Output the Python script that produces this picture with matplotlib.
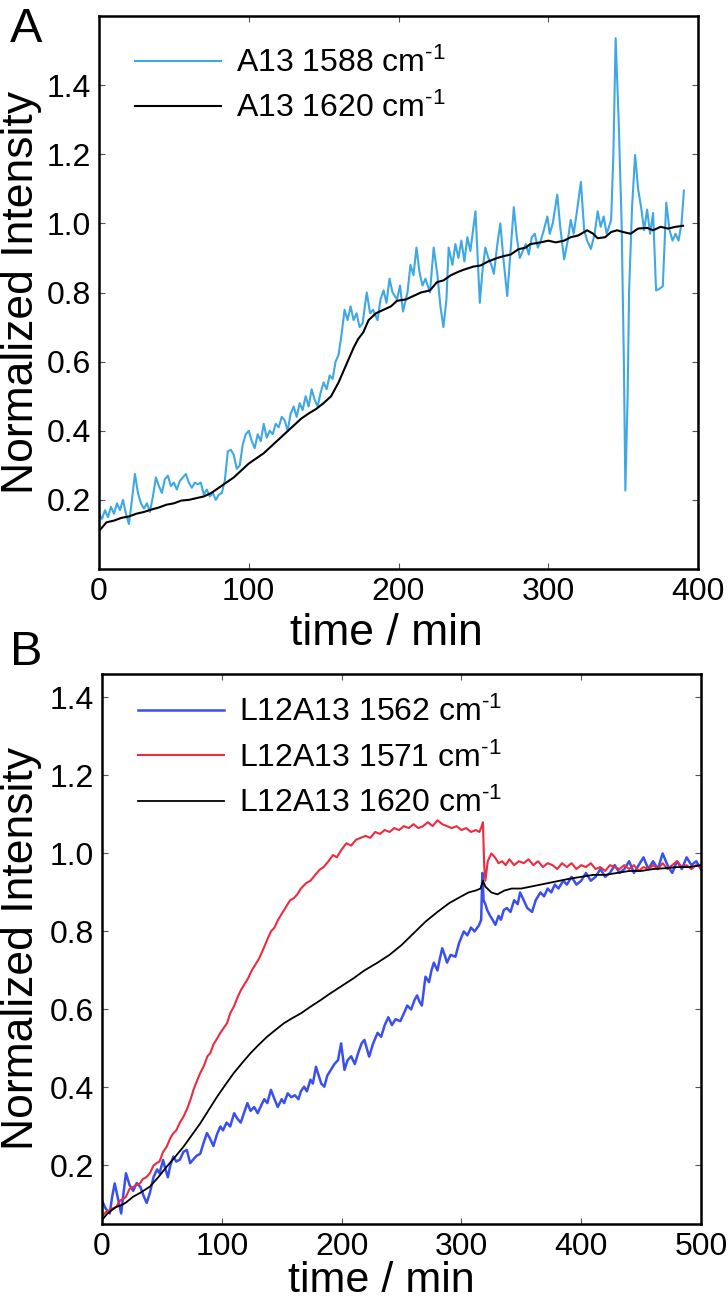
import numpy as np
import matplotlib
matplotlib.use('Agg')
import matplotlib.pyplot as plt

plt.rcParams['font.family'] = ['Liberation Sans', 'DejaVu Sans']
plt.rcParams['mathtext.fontset'] = 'custom'
plt.rcParams['mathtext.rm'] = 'Liberation Sans'
plt.rcParams['mathtext.default'] = 'regular'

# ---------------- Panel A data (time in min, normalized intensity) ----------------
t_a13_1588 = [0, 2, 4, 6, 8, 10, 12, 14, 16, 18,
              20, 22, 24, 26, 28, 30, 32, 34, 36, 38,
              40, 42, 44, 46, 48, 50, 52, 54, 56, 58,
              60, 62, 64, 66, 68, 70, 72, 74, 76, 78,
              80, 82, 84, 86, 88, 90, 92, 94, 96, 98,
              100, 102, 104, 106, 108, 110, 112, 114, 116, 118,
              120, 122, 124, 126, 128, 130, 132, 134, 136, 138,
              140, 142, 144, 146, 148, 150, 152, 154, 156, 158,
              160, 162, 164, 166, 168, 170, 172, 174, 176, 178.8,
              181, 183, 186, 188, 190, 192, 194, 196, 199, 201,
              203, 206, 208, 210, 212, 214, 216, 218, 221, 223.5,
              226, 228, 230, 232, 233.5, 236, 238, 240, 242, 244,
              246, 248, 251.4, 254.3, 256, 258, 260, 262, 263.7, 266,
              268, 270, 272.6, 275, 277, 279, 281, 283, 285, 287,
              289, 291, 293, 295, 297, 299.4, 301, 303, 306, 308,
              310.6, 313, 315, 317, 319, 321.8, 324, 326, 328.5, 331,
              333, 335, 337, 339, 342, 343.5, 345, 347, 349, 350.5,
              351.5, 353, 354, 356, 358, 360, 362, 364, 366, 368,
              370, 372, 374, 376.5, 378.8, 381, 383, 385, 387, 389,
              390.6]
v_a13_1588 = [0.16, 0.145, 0.17, 0.15, 0.18, 0.16, 0.19, 0.17, 0.2, 0.16,
              0.13, 0.2, 0.275, 0.22, 0.19, 0.175, 0.19, 0.165, 0.21, 0.265,
              0.24, 0.22, 0.26, 0.27, 0.24, 0.25, 0.23, 0.255, 0.265, 0.275,
              0.25, 0.235, 0.25, 0.245, 0.25, 0.215, 0.23, 0.21, 0.22, 0.2,
              0.215, 0.22, 0.255, 0.34, 0.345, 0.33, 0.29, 0.3, 0.36, 0.39,
              0.4, 0.37, 0.35, 0.39, 0.37, 0.42, 0.38, 0.40, 0.39, 0.42,
              0.41, 0.44, 0.43, 0.40, 0.45, 0.47, 0.44, 0.48, 0.46, 0.50,
              0.47, 0.52, 0.49, 0.47, 0.51, 0.54, 0.52, 0.56, 0.55, 0.60,
              0.62, 0.68, 0.75, 0.72, 0.76, 0.72, 0.74, 0.70, 0.71, 0.80,
              0.74, 0.75, 0.72, 0.78, 0.806, 0.77, 0.84, 0.80, 0.78, 0.82,
              0.745, 0.80, 0.88, 0.85, 0.93, 0.86, 0.82, 0.84, 0.80, 0.93,
              0.85, 0.76, 0.70, 0.78, 0.93, 0.88, 0.94, 0.90, 0.95, 0.89,
              0.96, 0.92, 1.035, 0.77, 0.86, 0.93, 0.90, 0.88, 0.854, 0.94,
              1.00, 0.90, 0.79, 0.93, 1.047, 0.96, 0.90, 0.92, 0.94, 0.91,
              0.96, 0.97, 0.93, 0.95, 0.98, 1.02, 0.97, 1.0, 1.083, 0.99,
              0.896, 0.95, 1.01, 0.97, 1.03, 1.12, 0.98, 0.95, 0.926, 0.97,
              1.035, 0.99, 1.02, 0.97, 1.01, 1.2, 1.536, 1.3, 1.0, 0.6,
              0.227, 0.5, 0.806, 1.05, 1.198, 1.10, 1.047, 0.98, 1.04, 0.97,
              1.03, 0.806, 0.81, 0.818, 1.06, 0.98, 0.95, 0.97, 0.95, 1.0,
              1.095]

t_a13_1620 = [0, 5, 10, 15, 20, 25, 30, 35, 40, 45,
              50, 55, 60, 65, 70, 75, 80, 85, 90, 95,
              100, 105, 110, 115, 120, 125, 130, 135, 140, 145,
              150, 155, 160, 165, 170, 173, 176.5, 180, 185, 190,
              195, 199, 205, 210, 215, 221, 225.7, 230, 235, 240,
              243.6, 250, 254.7, 260, 266, 270, 275, 280, 285, 288,
              295, 300, 305, 310.6, 315, 320, 326, 330, 333, 338,
              342, 346, 350, 355, 360, 366, 370, 375, 380, 385,
              390]
v_a13_1620 = [0.11, 0.135, 0.14, 0.148, 0.152, 0.16, 0.165, 0.172, 0.178, 0.186,
              0.19, 0.198, 0.2, 0.205, 0.21, 0.22, 0.235, 0.25, 0.265, 0.285,
              0.305, 0.32, 0.335, 0.355, 0.375, 0.395, 0.415, 0.435, 0.45, 0.463,
              0.48, 0.5, 0.54, 0.59, 0.64, 0.665, 0.685, 0.72, 0.74, 0.75,
              0.76, 0.776, 0.78, 0.79, 0.80, 0.806, 0.83, 0.835, 0.85, 0.86,
              0.866, 0.875, 0.878, 0.89, 0.90, 0.905, 0.91, 0.925, 0.93, 0.94,
              0.945, 0.95, 0.945, 0.95, 0.96, 0.965, 0.98, 0.97, 0.957, 0.96,
              0.975, 0.98, 0.975, 0.97, 0.985, 0.987, 0.98, 0.99, 0.985, 0.99,
              0.993]

# ---------------- Panel B data ----------------
t_l12_1562 = [0, 3, 6.4, 8.5, 10.6, 13, 16, 18, 20, 23,
              26, 29, 32, 35, 37.3, 40, 43, 46, 48, 51,
              53, 55, 57, 59.6, 62, 65, 68, 70.8, 73.6, 76,
              79, 82, 85, 87.6, 90, 93, 96, 98.8, 101, 104,
              107, 110.3, 113, 115.8, 118, 121.4, 124, 127, 130, 133,
              135.5, 138, 141, 144, 146.7, 150, 152, 155, 158, 161,
              164, 166, 168.7, 171, 174, 176, 178.6, 181, 183, 185.6,
              188, 191, 194, 197, 199.6, 202.4, 205, 208, 211, 214,
              216.7, 219, 221, 223, 226, 230, 233, 236, 239, 242,
              245, 249, 252, 254.8, 258, 261, 263, 265, 267, 270,
              273, 275, 277, 280, 282, 284, 286, 288, 291, 295,
              298, 302, 305, 308, 311, 314.7, 316.5, 317.5, 318.5, 320,
              321.5, 324, 326, 328.4, 331, 333, 335.4, 338, 341, 344,
              347, 349, 352, 355, 359, 362, 366, 369, 372, 375,
              378, 381, 385, 388, 392, 396, 400, 404, 408, 412,
              416, 420, 424, 428, 432, 436, 440, 444, 448, 452,
              456, 460, 464, 468, 472, 476, 480, 484, 488, 492,
              496, 500]
v_l12_1562 = [0.11, 0.09, 0.077, 0.12, 0.154, 0.12, 0.077, 0.13, 0.18, 0.15,
              0.135, 0.155, 0.145, 0.12, 0.104, 0.13, 0.17, 0.19, 0.18, 0.214,
              0.19, 0.17, 0.2, 0.223, 0.21, 0.215, 0.235, 0.24, 0.206, 0.215,
              0.225, 0.23, 0.26, 0.283, 0.27, 0.25, 0.28, 0.30, 0.29, 0.31,
              0.30, 0.334, 0.32, 0.31, 0.33, 0.36, 0.34, 0.35, 0.334, 0.355,
              0.37, 0.36, 0.394, 0.37, 0.35, 0.37, 0.36, 0.385, 0.375, 0.38,
              0.37, 0.39, 0.402, 0.39, 0.42, 0.41, 0.453, 0.43, 0.41, 0.402,
              0.43, 0.445, 0.46, 0.47, 0.513, 0.445, 0.47, 0.48, 0.46, 0.49,
              0.513, 0.522, 0.50, 0.479, 0.51, 0.54, 0.53, 0.56, 0.58, 0.56,
              0.575, 0.57, 0.59, 0.61, 0.60, 0.625, 0.636, 0.62, 0.61, 0.684,
              0.67, 0.70, 0.72, 0.70, 0.73, 0.757, 0.74, 0.72, 0.74, 0.735,
              0.77, 0.80, 0.79, 0.81, 0.80, 0.816, 0.83, 0.95, 0.88, 0.87,
              0.855, 0.84, 0.83, 0.817, 0.84, 0.83, 0.855, 0.86, 0.85, 0.88,
              0.87, 0.90, 0.88, 0.86, 0.85, 0.88, 0.90, 0.89, 0.91, 0.90,
              0.92, 0.91, 0.93, 0.92, 0.94, 0.92, 0.93, 0.95, 0.93, 0.94,
              0.96, 0.94, 0.95, 0.97, 0.95, 0.96, 0.98, 0.95, 0.97, 0.99,
              0.96, 0.98, 0.96, 1.0, 0.97, 0.95, 0.98, 0.96, 0.99, 0.97,
              0.98, 0.96]

t_l12_1571 = [0, 3, 6, 9, 12, 15, 18, 20, 23, 26,
              29, 31.7, 34, 37, 40, 43, 45.6, 48, 51, 54,
              57, 59.6, 62, 65, 68, 71, 74, 76.4, 79, 82,
              85, 88, 90.4, 93, 96, 98.8, 101, 104.4, 107, 110,
              113, 116, 119, 122, 125, 128, 131, 134, 137.8, 141,
              144, 147, 150, 153, 157, 160, 163, 166, 170.5, 174,
              178, 181.6, 185, 189, 192.8, 196, 200, 204, 208, 212,
              216, 220, 224, 228, 232, 236, 240, 244, 248, 252,
              256, 260, 264, 268, 272, 276, 280, 284, 288, 292,
              296, 300, 304, 308, 312, 315, 317, 318, 319, 320,
              322, 325, 328, 331, 334, 337, 340, 344, 348, 352,
              356, 360, 364, 368, 372, 376, 380, 384, 388, 392,
              396, 400, 404, 408, 412, 416, 420, 424, 428, 432,
              436, 440, 444, 448, 452, 456, 460, 464, 468, 472,
              476, 480, 484, 488, 492, 496, 500]
v_l12_1571 = [0.07, 0.08, 0.085, 0.09, 0.094, 0.11, 0.115, 0.12, 0.14, 0.145,
              0.15, 0.154, 0.165, 0.17, 0.18, 0.2, 0.206, 0.21, 0.235, 0.248,
              0.27, 0.283, 0.29, 0.31, 0.325, 0.345, 0.37, 0.394, 0.415, 0.437,
              0.455, 0.48, 0.488, 0.51, 0.525, 0.54, 0.55, 0.565, 0.59, 0.607,
              0.63, 0.65, 0.665, 0.68, 0.70, 0.715, 0.73, 0.75, 0.778, 0.80,
              0.81, 0.83, 0.845, 0.86, 0.88, 0.885, 0.895, 0.91, 0.924, 0.93,
              0.945, 0.958, 0.965, 0.98, 0.996, 0.99, 1.01, 1.026, 1.02, 1.035,
              1.04, 1.045, 1.04, 1.055, 1.05, 1.06, 1.055, 1.065, 1.06, 1.07,
              1.065, 1.075, 1.065, 1.07, 1.08, 1.07, 1.085, 1.075, 1.07, 1.065,
              1.07, 1.06, 1.065, 1.055, 1.06, 1.055, 1.07, 1.08, 0.97, 0.93,
              0.98, 1.0, 0.99, 0.975, 0.98, 0.97, 0.985, 0.97, 0.98, 0.975,
              0.985, 0.97, 0.98, 0.965, 0.975, 0.97, 0.96, 0.975, 0.965, 0.975,
              0.96, 0.97, 0.965, 0.975, 0.96, 0.965, 0.955, 0.97, 0.965, 0.96,
              0.97, 0.96, 0.97, 0.955, 0.965, 0.96, 0.97, 0.96, 0.975, 0.96,
              0.97, 0.98, 0.965, 0.97, 0.96, 0.97, 0.965]

t_l12_1620 = [0, 4, 8, 12, 16, 20, 26, 32, 40, 47,
              54, 61, 68, 75, 82, 89, 96, 103, 110, 117,
              124, 131, 137.8, 145, 152, 159, 166, 174, 182.5, 190,
              200, 210, 219, 230, 240, 250, 260, 270, 280, 290,
              300, 306, 312, 316, 318, 320, 325,
              330, 336, 342, 350, 358, 366, 374, 382, 390, 400,
              410, 420, 430, 440, 450, 460, 470, 480, 490, 500]
v_l12_1620 = [0.06, 0.075, 0.085, 0.094, 0.098, 0.105, 0.12, 0.13, 0.146, 0.17,
              0.197, 0.222, 0.248, 0.278, 0.308, 0.342, 0.376, 0.407, 0.437, 0.463,
              0.488, 0.51, 0.53, 0.548, 0.565, 0.578, 0.59, 0.607, 0.624, 0.64,
              0.66, 0.68, 0.70, 0.72, 0.74, 0.765, 0.795, 0.825, 0.85, 0.873,
              0.89, 0.90, 0.905, 0.91, 0.93, 0.915, 0.90,
              0.895, 0.905, 0.91, 0.91, 0.915, 0.92, 0.925, 0.93, 0.935, 0.94,
              0.945, 0.945, 0.95, 0.955, 0.955, 0.96, 0.962, 0.965, 0.965, 0.97]

yticks = [0.2, 0.4, 0.6, 0.8, 1.0, 1.2, 1.4]


def style_axes(ax):
    for sp in ax.spines.values():
        sp.set_linewidth(1.8)
        sp.set_color('black')
    ax.tick_params(direction='in', length=4, width=0.8, color='#555555',
                   top=True, right=True, labelsize=23, pad=6)
    ax.set_yticks(yticks)
    ax.set_yticklabels([f'{v:.1f}' for v in yticks])


fig = plt.figure(figsize=(7.28, 13.03), dpi=100)

# ------------------ Panel A ------------------
ax1 = fig.add_axes([99 / 728, 1 - 569 / 1303, 599 / 728, 553 / 1303])
ax1.plot(t_a13_1588, v_a13_1588, color='#3ea8e5', lw=1.5, label=r'A13 1588 cm$^{\text{-}1}$')
ax1.plot(t_a13_1620, v_a13_1620, color='black', lw=1.5, label=r'A13 1620 cm$^{\text{-}1}$')
ax1.set_xlim(0, 400)
ax1.set_ylim(0, 1.6)
ax1.set_xticks([0, 100, 200, 300, 400])
style_axes(ax1)
ax1.set_xlabel('time / min', fontsize=32)
ax1.set_ylabel('Normalized Intensity', fontsize=32)
ax1.xaxis.set_label_coords(0.479, -0.08)
ax1.yaxis.set_label_coords(-0.095, 0.5)
ax1.legend(loc='upper left', bbox_to_anchor=(0.06, 0.942), frameon=False,
           fontsize=23, handlelength=2.7, handletextpad=0.45, labelspacing=0.43,
           borderpad=0, borderaxespad=0)
fig.text(10 / 728, 1 - 42 / 1303, 'A', fontsize=35, va='baseline')

# ------------------ Panel B ------------------
ax2 = fig.add_axes([102 / 728, 1 - 1224 / 1303, 599 / 728, 550 / 1303])
ax2.plot(t_l12_1562, v_l12_1562, color='#3a4ff0', lw=1.8, label=r'L12A13 1562 cm$^{\text{-}1}$')
ax2.plot(t_l12_1571, v_l12_1571, color='#ef2a40', lw=1.5, label=r'L12A13 1571 cm$^{\text{-}1}$')
ax2.plot(t_l12_1620, v_l12_1620, color='black', lw=1.3, label=r'L12A13 1620 cm$^{\text{-}1}$')
ax2.set_xlim(0, 500)
ax2.set_ylim(0.05, 1.46)
ax2.set_xticks([0, 100, 200, 300, 400, 500])
style_axes(ax2)
ax2.set_xlabel('time / min', fontsize=31)
ax2.set_ylabel('Normalized Intensity', fontsize=32)
ax2.xaxis.set_label_coords(0.467, -0.068)
ax2.yaxis.set_label_coords(-0.1, 0.5)
ax2.legend(loc='upper left', bbox_to_anchor=(0.06, 0.959), frameon=False,
           fontsize=23, handlelength=2.7, handletextpad=0.45, labelspacing=0.45,
           borderpad=0, borderaxespad=0)
fig.text(10 / 728, 1 - 665 / 1303, 'B', fontsize=35, va='baseline')

fig.savefig('out.png', dpi=100)
